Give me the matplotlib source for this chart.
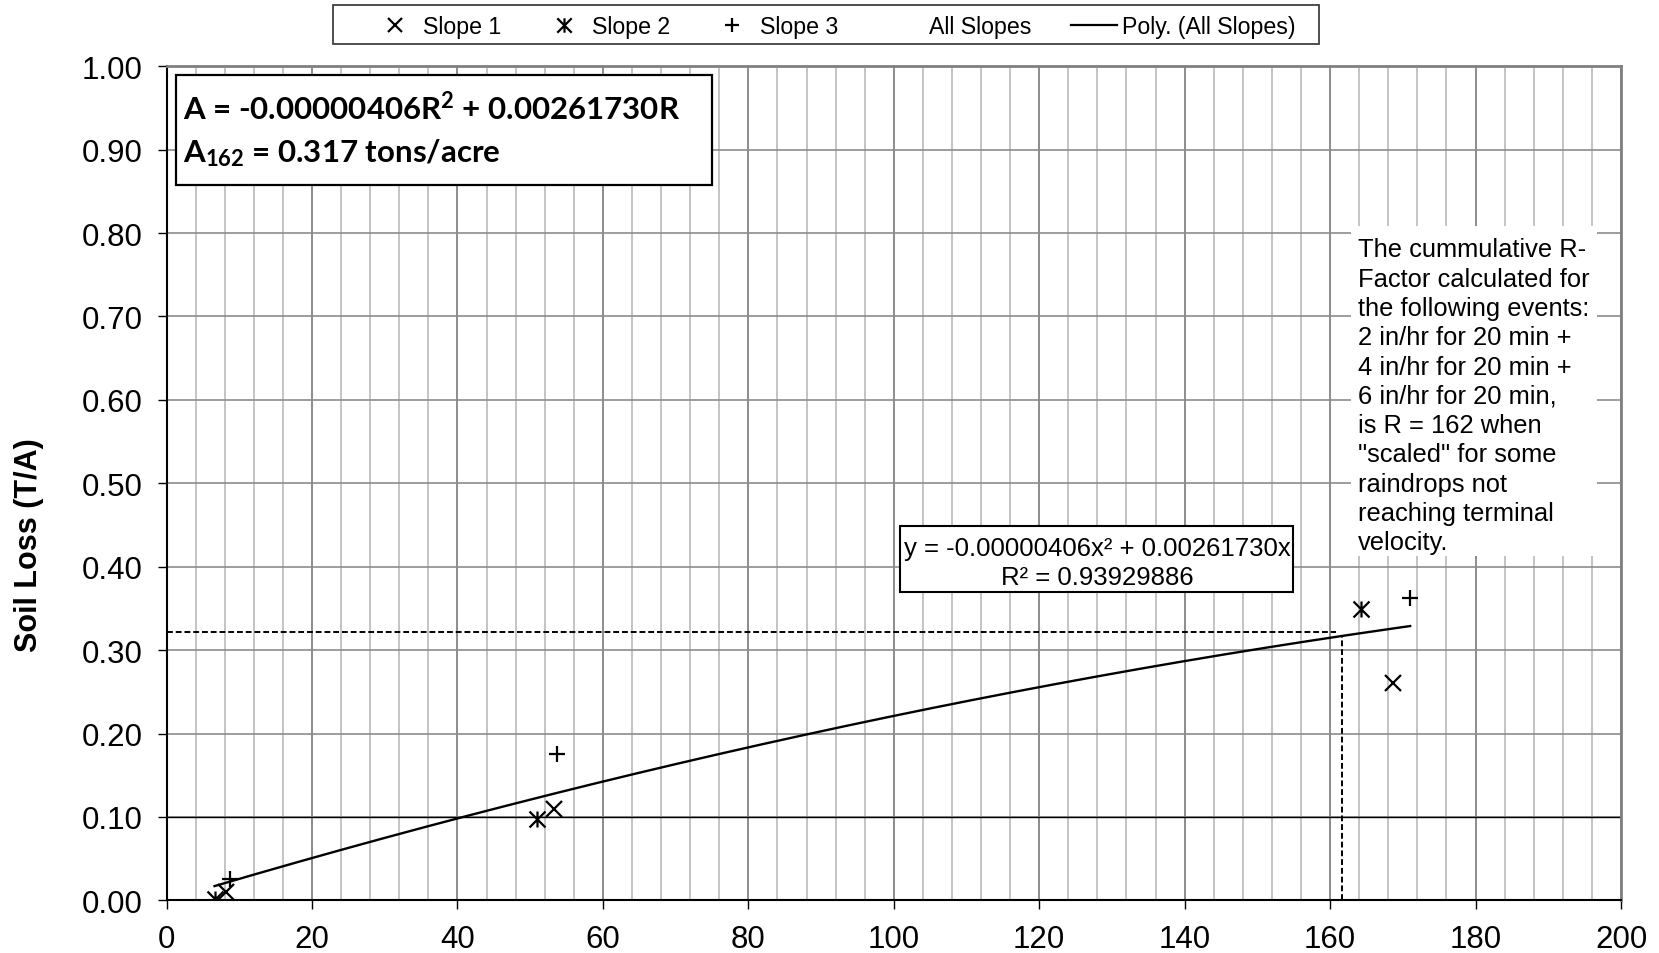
import matplotlib
matplotlib.use("Agg")
import matplotlib.pyplot as plt
import numpy as np
from matplotlib.lines import Line2D
from matplotlib.patches import Rectangle
from matplotlib.path import Path
from matplotlib.ticker import MultipleLocator, FormatStrFormatter

# values (R factor vs soil loss in tons/acre)
slope1_r = [8.2, 53.3, 168.7]
slope1_a = [0.010, 0.110, 0.261]
slope2_r = [6.6, 50.9, 164.2]
slope2_a = [0.002, 0.098, 0.349]
slope3_r = [8.7, 53.7, 171.0]
slope3_a = [0.025, 0.175, 0.363]

# 2nd order trendline through origin (all slopes)
poly_a2 = -0.00000406
poly_a1 = 0.00261730
r_squared = 0.93929886

# dashed guide lines for R = 162
guide_r = 161.6
guide_a = 0.317
guide_h = 0.322
guide_h_end = 160.8

legend_labels = ["Slope 1", "Slope 2", "Slope 3", "All Slopes", "Poly. (All Slopes)"]
note_lines = [
    "The cummulative R-",
    "Factor calculated for",
    "the following events:",
    "2 in/hr for 20 min +",
    "4 in/hr for 20 min +",
    "6 in/hr for 20 min,",
    "is R = 162 when",
    "\"scaled\" for some",
    "raindrops not",
    "reaching terminal",
    "velocity.",
]

plt.rcParams["font.family"] = ["Liberation Sans", "DejaVu Sans"]
plt.rcParams["mathtext.fontset"] = "custom"
plt.rcParams["mathtext.rm"] = "Lato:bold"
plt.rcParams["mathtext.it"] = "Lato:bold"
plt.rcParams["mathtext.bf"] = "Lato:bold"

# excel style "star" marker: an x with a vertical bar
star = Path([(-1, -1), (1, 1), (-1, 1), (1, -1), (0, -1), (0, 1)],
            [Path.MOVETO, Path.LINETO, Path.MOVETO, Path.LINETO, Path.MOVETO, Path.LINETO])

fig = plt.figure(figsize=(16.59, 9.54), dpi=100)
ax = fig.add_axes([0.1004, 0.0552, 0.8767, 0.8743])

ax.set_xlim(0, 200)
ax.set_ylim(0, 1.0)
ax.xaxis.set_major_locator(MultipleLocator(20))
ax.xaxis.set_minor_locator(MultipleLocator(4))
ax.yaxis.set_major_locator(MultipleLocator(0.1))
ax.yaxis.set_major_formatter(FormatStrFormatter("%.2f"))

# grid
ax.set_axisbelow(True)
ax.grid(which="minor", axis="x", color="#c4c4c4", lw=1.4)
ax.grid(which="major", axis="x", color="#8c8c8c", lw=1.4)
ax.grid(which="major", axis="y", color="#8c8c8c", lw=1.2)
ax.axhline(0.1, color="black", lw=1.0, zorder=1)

for s in ["top", "right"]:
    ax.spines[s].set_color("#808080")
    ax.spines[s].set_linewidth(2)
for s in ["bottom", "left"]:
    ax.spines[s].set_color("black")
    ax.spines[s].set_linewidth(1.5)

ax.tick_params(which="major", length=6.5, width=1, direction="out", labelsize=22.5, pad=10.5)
ax.tick_params(which="minor", length=0)

mk = dict(color="black", linestyle="none", markersize=11.5, markeredgewidth=1.6, zorder=5)
ax.plot(slope1_r, slope1_a, marker="x", **mk)
ax.plot(slope2_r, slope2_a, marker=star, **mk)
ax.plot(slope3_r, slope3_a, marker="+", **mk)

# trendline over the range of all points
all_r = np.array(slope1_r + slope2_r + slope3_r)
rr = np.linspace(all_r.min(), all_r.max(), 200)
ax.plot(rr, poly_a2 * rr ** 2 + poly_a1 * rr, color="black", lw=1.7, zorder=4)

# dashed guides
ax.plot([0, guide_h_end], [guide_h, guide_h], color="black", lw=1.4, ls=(0, (3, 1.5)), zorder=4)
ax.plot([guide_r, guide_r], [0, guide_a], color="black", lw=1.4, ls=(0, (3, 1.5)), zorder=4)

# equation box, top left
ax.add_patch(Rectangle((1.25, 0.8574), 73.75, 0.1319, facecolor="white", edgecolor="black", lw=1.6, zorder=6))
ax.text(2.3, 0.937, r"A = -0.00000406R$^2$ + 0.00261730R", fontsize=22.5, family="Lato",
        fontweight="bold", va="baseline", ha="left", zorder=7)
ax.text(2.3, 0.8866, r"A$_{162}$ = 0.317 tons/acre", fontsize=22.5, family="Lato",
        fontweight="bold", va="baseline", ha="left", zorder=7)

# excel trendline label
ax.add_patch(Rectangle((100.9, 0.3697), 54.0, 0.0791, facecolor="white", edgecolor="black", lw=1.5, zorder=6))
ax.text(128.0, 0.414, "y = -0.00000406x\u00b2 + 0.00261730x", fontsize=18.5, ha="center", va="baseline", zorder=7)
ax.text(128.0, 0.3795, "R\u00b2 = %.8f" % r_squared, fontsize=18.5, ha="center", va="baseline", zorder=7)

# note on the right
ax.add_patch(Rectangle((162.9, 0.413), 33.8, 0.3955, facecolor="white", edgecolor="none", zorder=6))
ax.text(163.8, 0.795, "\n".join(note_lines), fontsize=18.4, ha="left", va="top", linespacing=1.28, zorder=7)

fig.text(0.0175, 1 - 545 / 954, "Soil Loss (T/A)", rotation=90, fontsize=22, fontweight="bold",
         ha="center", va="center")

# legend: entries without frame, frame drawn separately (excel pads it wider)
handles = [
    Line2D([], [], marker="x", **mk),
    Line2D([], [], marker=star, **mk),
    Line2D([], [], marker="+", **mk),
    Line2D([], [], linestyle="none"),
    Line2D([], [], color="black", lw=1.6),
]
fig.legend(handles, legend_labels, loc="center", bbox_to_anchor=(0.5025, 0.9712), ncol=5,
           fontsize=16.7, frameon=False, handlelength=2.0, handletextpad=0.2,
           columnspacing=1.7, markerscale=0.9)
fig.patches.append(Rectangle((333 / 1659, 1 - 45 / 954), 986 / 1659, 39 / 954, transform=fig.transFigure,
                             facecolor="none", edgecolor="#404040", lw=1.3))

fig.savefig("out.png", dpi=100)
